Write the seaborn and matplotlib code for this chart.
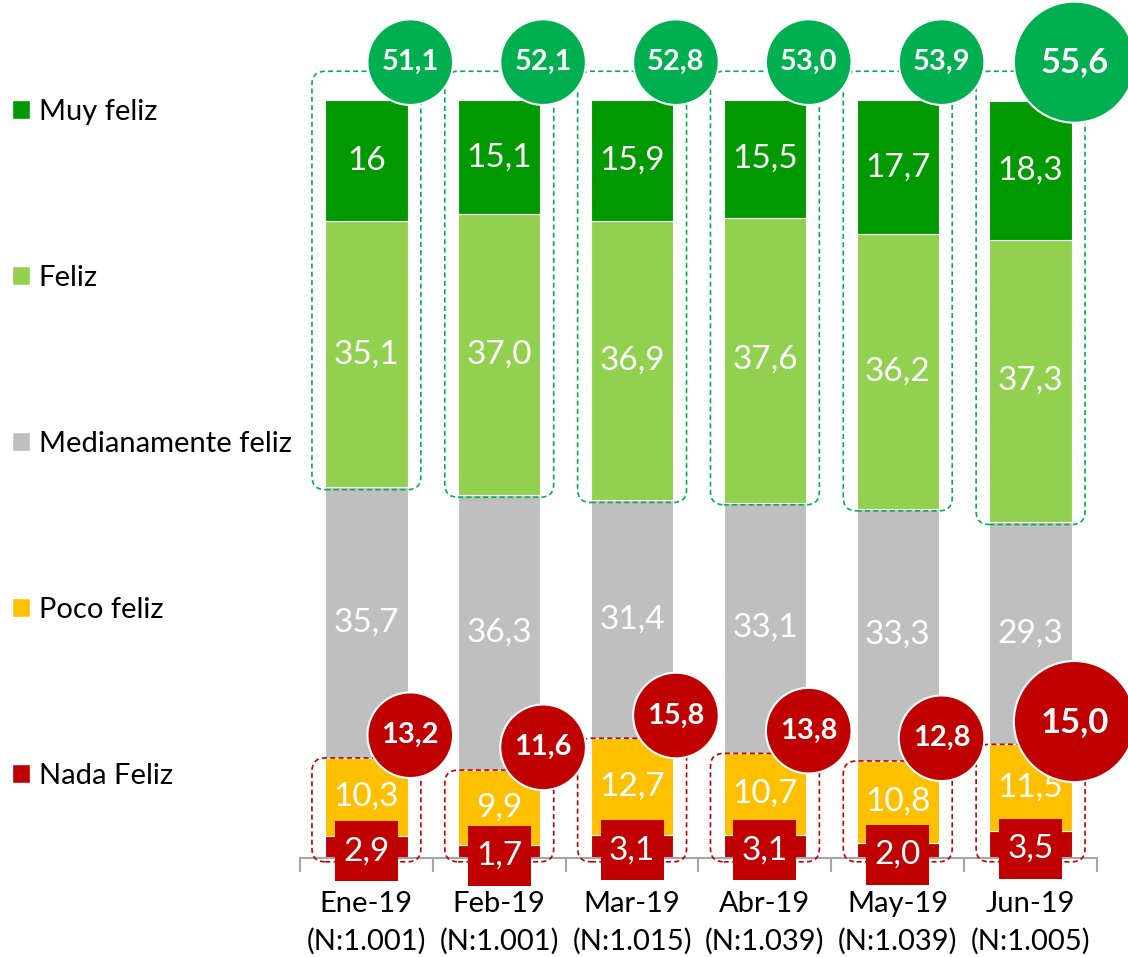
import numpy as np
import pandas as pd
import matplotlib
matplotlib.use("Agg")
import matplotlib.pyplot as plt
from matplotlib.patches import FancyBboxPatch, Patch
from matplotlib.path import Path
import seaborn as sns

meses = ["Ene-19", "Feb-19", "Mar-19", "Abr-19", "May-19", "Jun-19"]
muestras = ["N:1.001", "N:1.001", "N:1.015", "N:1.039", "N:1.039", "N:1.005"]

nada_feliz = [2.9, 1.7, 3.1, 3.1, 2.0, 3.5]
poco_feliz = [10.3, 9.9, 12.7, 10.7, 10.8, 11.5]
medianamente_feliz = [35.7, 36.3, 31.4, 33.1, 33.3, 29.3]
feliz = [35.1, 37.0, 36.9, 37.6, 36.2, 37.3]
muy_feliz = [16, 15.1, 15.9, 15.5, 17.7, 18.3]

# totales tal como aparecen en los círculos
total_felices = [51.1, 52.1, 52.8, 53.0, 53.9, 55.6]
total_infelices = [13.2, 11.6, 15.8, 13.8, 12.8, 15.0]

sns.set_theme(style="white")
plt.rcParams["font.family"] = ["Lato", "DejaVu Sans"]
plt.rcParams["text.color"] = "black"
plt.rcParams["xtick.color"] = "black"


def fmt(v):
    return str(v).replace(".", ",")


def caja_alta(x0, y0, width, height, mutation_size):
    # caja roja más alta que ancha para las etiquetas de "Nada Feliz"
    px, py = 0.25 * mutation_size, 0.45 * mutation_size
    xa, ya = x0 - px, y0 - py
    xb, yb = x0 + width + px, y0 + height + py
    return Path([(xa, ya), (xb, ya), (xb, yb), (xa, yb), (xa, ya)], closed=True)


capas = ["Nada Feliz", "Poco feliz", "Medianamente feliz", "Feliz", "Muy feliz"]
series = [nada_feliz, poco_feliz, medianamente_feliz, feliz, muy_feliz]
colores = {
    "Nada Feliz": "#C00000",
    "Poco feliz": "#FFC000",
    "Medianamente feliz": "#BFBFBF",
    "Feliz": "#92D050",
    "Muy feliz": "#009900",
}

df = pd.DataFrame({"Mes": [f"{m}\n({n})" for m, n in zip(meses, muestras)]})
for capa, valores in zip(capas, series):
    df[capa] = valores

W, H = 1128, 957
fig = plt.figure(figsize=(W / 100, H / 100), dpi=100)
ax = fig.add_axes([300 / W, 99 / H, 797 / W, 858 / H])

base = np.zeros(len(df))
for capa in capas:
    sns.barplot(data=df, x="Mes", y=capa, bottom=base, color=colores[capa],
                saturation=1, width=0.62, errorbar=None, edgecolor="white",
                linewidth=0.8, ax=ax)
    base = base + df[capa].to_numpy()

ax.set_xlim(-0.5, 5.5)
ax.set_ylim(0, 113.2)
ax.set_xlabel("")
ax.set_ylabel("")
ax.set_yticks([])
for lado in ["top", "left", "right"]:
    ax.spines[lado].set_visible(False)
ax.spines["bottom"].set_color("#A6A6A6")
ax.spines["bottom"].set_linewidth(1.5)

# etiquetas de los segmentos
for capa, valores, cont in zip(capas, series, ax.containers):
    etiquetas = [fmt(v) for v in valores]
    if capa == "Nada Feliz":
        ax.bar_label(cont, labels=etiquetas, label_type="center", color="white",
                     fontsize=24, zorder=6, padding=-3,
                     bbox=dict(boxstyle=caja_alta, fc="#C00000", ec="none"))
    else:
        ax.bar_label(cont, labels=etiquetas, label_type="center", color="white",
                     fontsize=24)

# recuadros punteados
px_cat = 797 / 6
px_uni = 858 / 113.2
aspecto = px_cat / px_uni
bajo_verde = np.array(nada_feliz) + np.array(poco_feliz) + np.array(medianamente_feliz)
alto_rojo = np.array(nada_feliz) + np.array(poco_feliz)
for i in range(len(meses)):
    y0 = bajo_verde[i] - 0.3
    caja = FancyBboxPatch((i - 0.41, y0), 0.82, 103.8 - y0,
                          boxstyle="round,pad=0,rounding_size=0.1",
                          mutation_aspect=aspecto, fill=False, ec="#00B050",
                          ls=(0, (3, 2)), lw=1.2, zorder=4)
    ax.add_patch(caja)
    caja = FancyBboxPatch((i - 0.41, -0.5), 0.82, alto_rojo[i] + 0.5,
                          boxstyle="round,pad=0,rounding_size=0.1",
                          mutation_aspect=aspecto, fill=False, ec="#C00000",
                          ls=(0, (3, 2)), lw=1.2, zorder=4, clip_on=False)
    ax.add_patch(caja)

# círculos con totales
xc = np.arange(len(meses)) + 0.33
tamanos = [3800] * 5 + [7600]
letras = [21] * 5 + [25]
y_verde = np.full(len(meses), 105.0)
y_rojo = alto_rojo + 3
ax.scatter(xc, y_verde, s=tamanos, color="#00B050",
           edgecolor="white", linewidth=1.5, zorder=5, clip_on=False)
ax.scatter(xc, y_rojo, s=tamanos, color="#C00000",
           edgecolor="white", linewidth=1.5, zorder=5, clip_on=False)
for i in range(len(meses)):
    ax.text(xc[i], y_verde[i], fmt(total_felices[i]), ha="center", va="center",
            color="white", fontsize=letras[i], fontweight="bold", zorder=7)
    ax.text(xc[i], y_rojo[i], fmt(total_infelices[i]), ha="center",
            va="center", color="white", fontsize=letras[i], fontweight="bold",
            zorder=7)

# eje x
ax.set_xticks(np.arange(-0.5, 6, 1), minor=True)
ax.tick_params(axis="x", which="minor", bottom=True, length=10, width=1.5,
               color="#A6A6A6", direction="out")
ax.tick_params(axis="x", which="major", length=0, pad=24, labelsize=21)
for t in ax.get_xticklabels():
    t.set_linespacing(1.5)

manejadores = [Patch(facecolor=colores[c], label=c) for c in reversed(capas)]
fig.legend(handles=manejadores, loc="upper left", bbox_to_anchor=(12 / W, 1 - 99 / H),
           frameon=False, fontsize=21, handlelength=0.62, handleheight=0.62,
           handletextpad=0.3, labelspacing=4.8, borderpad=0, borderaxespad=0)

fig.savefig("out.png", dpi=100)
